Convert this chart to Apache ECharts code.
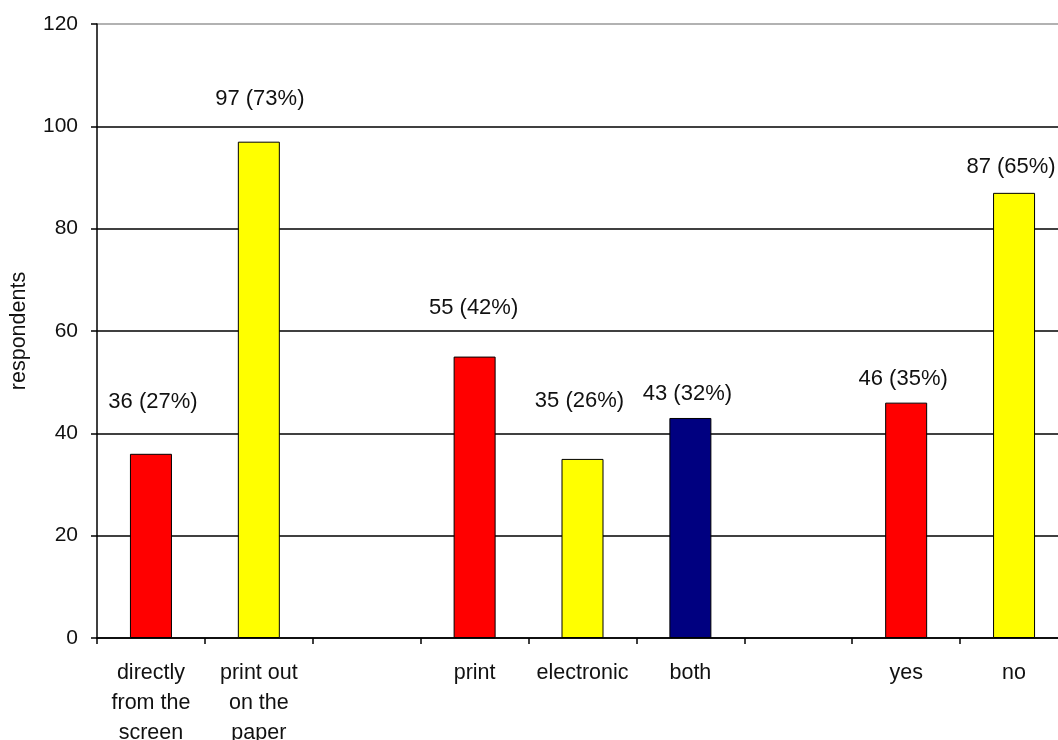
<!DOCTYPE html>
<html>
<head>
<meta charset="utf-8">
<title>Respondents</title>
<script src="https://cdn.jsdelivr.net/npm/echarts@6/dist/echarts.min.js"></script>
<style>
  html, body { margin: 0; padding: 0; background: #fff; }
  #chart { width: 1058px; height: 740px; }
</style>
</head>
<body>
<div id="chart"></div>
<script>
// Survey answers grouped in three questions, blank slots separate the groups
const categories = [
  'directly\nfrom the\nscreen', 'print out\non the\npaper', '',
  'print', 'electronic', 'both', '',
  'yes', 'no'
];
const respondents = [36, 97, null, 55, 35, 43, null, 46, 87];
const shares = [27, 73, null, 42, 26, 32, null, 35, 65];
const yTicks = [0, 20, 40, 60, 80, 100, 120];

// Appearance of each bar and where its value label sits
const barColors = ['#FF0000', '#FFFF00', null, '#FF0000', '#FFFF00', '#000080', null, '#FF0000', '#FFFF00'];
const labelLift = [40, 31, 0, 37, 46, 12, 0, 12, 14];
const labelShift = [2, 1, 0, -1, -3, -3, 0, -3, -3];

const FONT = '"Liberation Sans", Arial, sans-serif';

const barData = respondents.map((v, i) => {
  if (v === null) return '-';
  return {
    value: v,
    itemStyle: { color: barColors[i] },
    label: { distance: labelLift[i], offset: [labelShift[i], 0] }
  };
});

const chart = echarts.init(document.getElementById('chart'), null, { renderer: 'canvas' });
chart.setOption({
  animation: false,
  backgroundColor: '#ffffff',
  grid: { left: 97, top: 24, width: 971, bottom: 102, containLabel: false, outerBoundsMode: 'none' },
  xAxis: {
    type: 'category',
    data: categories,
    boundaryGap: true,
    axisLine: { lineStyle: { color: '#000', width: 1.5 } },
    axisTick: { show: true, length: 6, lineStyle: { color: '#000', width: 1.5 } },
    axisLabel: {
      interval: 0,
      margin: 20,
      color: '#111',
      fontFamily: FONT,
      fontSize: 21.5,
      lineHeight: 30
    },
    splitLine: { show: false }
  },
  yAxis: {
    type: 'value',
    min: yTicks[0],
    max: yTicks[yTicks.length - 1],
    interval: 20,
    name: 'respondents',
    nameLocation: 'middle',
    nameGap: 67,
    nameRotate: 90,
    nameTextStyle: { color: '#111', fontFamily: FONT, fontSize: 21.5 },
    axisLine: { show: true, lineStyle: { color: '#000', width: 1.5 } },
    axisTick: { show: true, length: 6, lineStyle: { color: '#000', width: 1.5 } },
    axisLabel: {
      margin: 19,
      color: '#111',
      fontFamily: FONT,
      fontSize: 21
    },
    splitLine: {
      show: true,
      lineStyle: {
        color: ['#000', '#000', '#000', '#000', '#000', '#000', '#999'],
        width: 1.5
      }
    }
  },
  series: [{
    type: 'bar',
    data: barData,
    barWidth: 42,
    itemStyle: { borderColor: '#000', borderWidth: 1 },
    label: {
      show: true,
      position: 'top',
      color: '#111',
      fontFamily: FONT,
      fontSize: 22,
      lineHeight: 24,
      formatter: p => p.value + ' (' + shares[p.dataIndex] + '%)'
    }
  }]
});
</script>
</body>
</html>
